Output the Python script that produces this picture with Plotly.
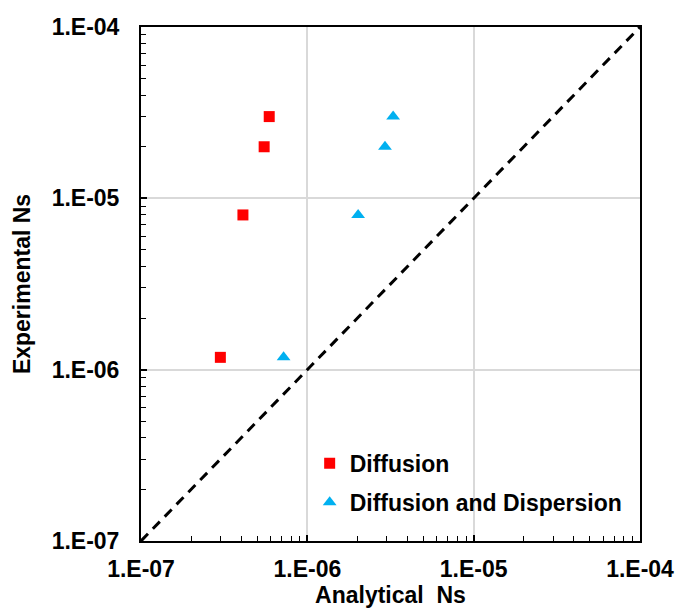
import plotly.graph_objects as go

diff_x = [5.9e-7, 5.5e-7, 4.1e-7, 3.0e-7]
diff_y = [3.0e-5, 2.0e-5, 8.0e-6, 1.18e-6]
disp_x = [3.28e-6, 2.93e-6, 2.02e-6, 7.2e-7]
disp_y = [3.0e-5, 2.0e-5, 8.0e-6, 1.18e-6]
line_xy = [1e-7, 1e-4]
tick_vals = [1e-7, 1e-6, 1e-5, 1e-4]
tick_text = ["1.E-07", "1.E-06", "1.E-05", "1.E-04"]
minor_vals = [k * d for d in [1e-7, 1e-6, 1e-5] for k in range(2, 10)]

FONT = "Liberation Sans, Arial, sans-serif"

fig = go.Figure()
fig.add_trace(go.Scatter(x=line_xy, y=line_xy, mode="lines",
                         line=dict(color="black", width=3, dash="10px,7px"),
                         showlegend=False, hoverinfo="skip"))
fig.add_trace(go.Scatter(x=diff_x, y=diff_y, mode="markers", name="Diffusion",
                         legendgroup="a",
                         marker=dict(symbol="square", size=11, color="#ff0000")))
fig.add_trace(go.Scatter(x=disp_x, y=disp_y, mode="markers", name="Diffusion and Dispersion",
                         legendgroup="b",
                         marker=dict(symbol="triangle-up", size=12, color="#00b0f0")))

def axis(standoff):
    return dict(
        type="log", range=[-7, -4], tickvals=tick_vals, ticktext=tick_text,
        showgrid=True, gridcolor="#d9d9d9", gridwidth=1.5,
        showline=True, linecolor="black", linewidth=2, mirror=True,
        ticks="inside", ticklen=6, tickcolor="black", tickwidth=1.5,
        ticklabelstandoff=standoff, automargin=False,
        minor=dict(tickvals=minor_vals, ticks="inside", ticklen=5,
                   tickcolor="black", tickwidth=1, showgrid=False),
        tickfont=dict(family=FONT, size=23, color="black", weight="bold"),
        zeroline=False,
    )

fig.update_layout(
    width=680, height=614,
    margin=dict(l=141, r=40, t=27, b=73),
    paper_bgcolor="white", plot_bgcolor="white",
    font=dict(family=FONT, color="black"),
    xaxis=dict(axis(6), title=dict(text="Analytical  Ns", standoff=6,
               font=dict(family=FONT, size=23, color="black", weight="bold"))),
    yaxis=dict(axis(15), title=dict(text="Experimental Ns", standoff=15,
               font=dict(family=FONT, size=23, color="black", weight="bold"))),
    legend=dict(x=0.338, y=0.193, xanchor="left", yanchor="top",
                bgcolor="rgba(0,0,0,0)", itemsizing="trace",
                font=dict(family=FONT, size=23, color="black", weight="bold"),
                tracegroupgap=6, itemwidth=30),
)

fig.write_html("out.html")
